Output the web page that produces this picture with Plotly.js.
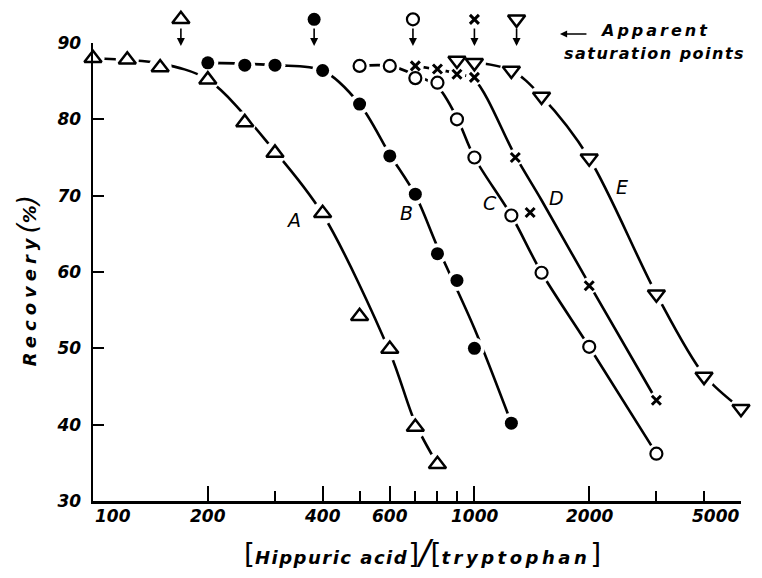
<!DOCTYPE html>
<html>
<head>
<meta charset="utf-8">
<script src="https://cdn.plot.ly/plotly-3.0.1.min.js"></script>
<style>html,body{margin:0;padding:0;background:#fff;}#chart{width:762px;height:578px;}</style>
</head>
<body>
<div id="chart"></div>
<script>
// ---- axis ticks ----
const xTickVals = [100, 200, 400, 600, 1000, 2000, 5000];
const xTickText = ['100', '200', '400', '600', '1000', '2000', '5000'];
const xMinorTicks = [300, 500, 700, 800, 900, 3000, 4000];
const yTickVals = [30, 40, 50, 60, 70, 80, 90];

// ---- series A (open triangles) ----
const aX = [100, 123, 150, 200, 250, 300, 400, 500, 600, 700, 800];
const aY = [88, 87.8, 86.8, 85.2, 79.6, 75.6, 67.7, 54.2, 49.9, 39.7, 34.8];
const aCurveX = [100, 150, 200, 300, 400, 600, 700, 800];
const aCurveY = [88, 87.3, 85.2, 75.8, 67.6, 49.5, 40.2, 34.8];

// ---- series B (filled circles) ----
const bX = [200, 250, 300, 400, 500, 600, 700, 800, 900, 1000, 1250];
const bY = [87.4, 87.1, 87.1, 86.4, 82.0, 75.2, 70.2, 62.4, 58.9, 50.0, 40.2];
const bCurveX = [200, 300, 400, 500, 600, 700, 800, 1000, 1250];
const bCurveY = [87.4, 87.1, 86.4, 82.0, 75.4, 70.1, 63.3, 52.6, 40.2];

// ---- series C (open circles) ----
const cX = [500, 600, 700, 800, 900, 1000, 1250, 1500, 2000, 3000];
const cY = [87.0, 87.0, 85.4, 84.8, 80.0, 75.0, 67.4, 59.9, 50.2, 36.2];
const cCurveX = [500, 600, 700, 800, 900, 1000, 1250, 1500, 2000, 3000];
const cCurveY = [87.0, 87.0, 85.8, 84.3, 80.2, 75.0, 67.4, 59.9, 50.2, 36.2];

// ---- series D (crosses) ----
const dX = [700, 800, 900, 1000, 1280, 1400, 2000, 3000];
const dY = [87.0, 86.6, 85.9, 85.5, 75.0, 67.8, 58.2, 43.2];
const dCurveX = [700, 900, 1000, 1280, 1500, 2000, 3000];
const dCurveY = [87.0, 86.0, 85.2, 75.2, 69.4, 58.4, 43.2];

// ---- series E (open inverted triangles) ----
const eX = [900, 1000, 1250, 1500, 2000, 3000, 4000, 5000];
const eY = [87.7, 87.4, 86.4, 83.0, 74.9, 57.1, 46.3, 42.1];
const eCurveX = [900, 1250, 1500, 2000, 3000, 4000, 5000];
const eCurveY = [87.7, 86.4, 83.0, 74.9, 57.1, 46.5, 42.1];

// ---- apparent saturation points ----
const satX = [170, 380, 690, 1000, 1290];
const satY = [93.1, 93.1, 93.1, 93.1, 93.1];
const satArrowTip = 89.6;

// ---- curve labels ----
const labelText = ['A', 'B', 'C', 'D', 'E'];
const labelX = [335, 665, 1100, 1646, 2438];
const labelY = [66.8, 67.7, 69.0, 69.7, 71.2];

const FONT = 'DejaVu Sans';
const ink = '#000';

const series = [
  {x: aX, y: aY, cx: aCurveX, cy: aCurveY, sym: 'triangle-up-open', size: 15, lw: 2.5},
  {x: bX, y: bY, cx: bCurveX, cy: bCurveY, sym: 'circle', size: 13, lw: 0},
  {x: cX, y: cY, cx: cCurveX, cy: cCurveY, sym: 'circle-open', size: 12, lw: 2.2},
  {x: dX, y: dY, cx: dCurveX, cy: dCurveY, sym: 'x-thin-open', size: 9, lw: 3},
  {x: eX, y: eY, cx: eCurveX, cy: eCurveY, sym: 'triangle-down-open', size: 15, lw: 2.5}
];

const traces = [];
series.forEach(s => {
  traces.push({x: s.cx, y: s.cy, mode: 'lines', type: 'scatter', cliponaxis: false,
    line: {color: ink, width: 2.6, shape: 'spline', smoothing: 0.9}, hoverinfo: 'skip'});
});
series.forEach(s => {
  traces.push({x: s.x, y: s.y, mode: 'markers', type: 'scatter', cliponaxis: false,
    marker: {symbol: 'circle', size: s.size + 8, color: '#fff', line: {width: 0}}, hoverinfo: 'skip'});
});
series.forEach(s => {
  traces.push({x: s.x, y: s.y, mode: 'markers', type: 'scatter', cliponaxis: false,
    marker: {symbol: s.sym, size: s.size, color: ink, line: {color: ink, width: s.lw}}});
});
// saturation markers on a strip axis above the plot area (same vertical scale)
series.forEach((s, i) => {
  traces.push({x: [satX[i]], y: [satY[i]], yaxis: 'y2', mode: 'markers', type: 'scatter', cliponaxis: false,
    marker: {symbol: s.sym, size: s.size, color: ink, line: {color: ink, width: s.lw}}});
});

const annotations = [];
// x tick labels
xTickVals.forEach((v, i) => {
  annotations.push({x: Math.log10(v), y: 0, xref: 'x', yref: 'y domain', showarrow: false,
    text: xTickText[i], yanchor: 'top', yshift: -3,
    xanchor: i === 0 ? 'left' : (i === xTickVals.length - 1 ? 'right' : 'center'),
    font: {family: FONT, size: 17, color: ink, style: 'italic', weight: 'bold'}});
});
// saturation arrows
satX.forEach(v => {
  annotations.push({x: Math.log10(v), y: satArrowTip, xref: 'x', yref: 'y', text: '',
    showarrow: true, arrowhead: 2, arrowsize: 1, arrowwidth: 1.6, arrowcolor: ink, ax: 0, ay: -19});
});
// curve labels
labelText.forEach((t, i) => {
  annotations.push({x: Math.log10(labelX[i]), y: labelY[i], xref: 'x', yref: 'y', text: t,
    showarrow: false, font: {family: FONT, size: 19, color: ink, style: 'italic'}});
});
// apparent saturation note
annotations.push({x: 0.7206, y: 1.0197, xref: 'paper', yref: 'y domain', text: '',
  showarrow: true, arrowhead: 2, arrowsize: 0.9, arrowwidth: 1.6, arrowcolor: ink, ax: 28, ay: 0});
annotations.push({x: 0.779, y: 1.027, xref: 'paper', yref: 'y domain', xanchor: 'left', yanchor: 'middle',
  showarrow: false, text: '<span style="letter-spacing:3px">Apparent</span>',
  font: {family: FONT, size: 16, color: ink, style: 'italic', weight: 'bold'}});
annotations.push({x: 0.723, y: 0.978, xref: 'paper', yref: 'y domain', xanchor: 'left', yanchor: 'middle',
  showarrow: false, text: '<span style="letter-spacing:1.5px">saturation points</span>',
  font: {family: FONT, size: 16, color: ink, style: 'italic', weight: 'bold'}});
// y title
annotations.push({x: 0, y: 0.48, xref: 'paper', yref: 'y domain', xshift: -66, textangle: -90,
  showarrow: false, xanchor: 'center', yanchor: 'middle',
  text: '<span style="letter-spacing:5px">Recovery</span><span style="font-size:26px;font-weight:normal">(</span>%<span style="font-size:26px;font-weight:normal">)</span>',
  font: {family: FONT, size: 18, color: ink, style: 'italic', weight: 'bold'}});
// x title
annotations.push({x: 0.509, y: -0.112, xref: 'paper', yref: 'y domain', xanchor: 'center', yanchor: 'middle',
  showarrow: false,
  text: '<span style="font-size:28px;font-weight:normal;font-style:normal">[</span><span style="letter-spacing:1.5px">Hippuric acid</span><span style="font-size:28px;font-weight:normal;font-style:normal">]</span><span style="font-size:34px;font-weight:normal">/</span><span style="font-size:28px;font-weight:normal;font-style:normal">[</span><span style="letter-spacing:3.5px">tryptophan</span><span style="font-size:28px;font-weight:normal;font-style:normal">]</span>',
  font: {family: FONT, size: 18, color: ink, style: 'italic', weight: 'bold'}});

// main plot: 43..501 px; strip above: 10..43 px (same 7.63 px per unit)
const TOP = 10, PLOT_TOP = 43, PLOT_BOTTOM = 501;
const paperH = PLOT_BOTTOM - TOP;
const mainTop = (PLOT_BOTTOM - PLOT_TOP) / paperH;
const pxPerUnit = (PLOT_BOTTOM - PLOT_TOP) / 60;

const layout = {
  width: 762, height: 578,
  margin: {l: 93, r: 21, t: TOP, b: 578 - PLOT_BOTTOM, pad: 0},
  paper_bgcolor: '#fff', plot_bgcolor: 'rgba(0,0,0,0)',
  showlegend: false,
  font: {family: FONT, color: ink},
  xaxis: {
    type: 'log', range: [2, Math.log10(5000)], anchor: 'y',
    showline: true, linewidth: 2.5, linecolor: ink, mirror: false,
    showgrid: false, zeroline: false,
    tickmode: 'array', tickvals: xTickVals, ticktext: xTickText, showticklabels: false,
    ticks: 'inside', ticklen: 15, tickwidth: 2, tickcolor: ink,
    minor: {tickmode: 'array', tickvals: xMinorTicks, ticks: 'inside', ticklen: 10, tickwidth: 2, tickcolor: ink, showgrid: false}
  },
  yaxis: {
    domain: [0, mainTop],
    range: [30, 90],
    showline: true, linewidth: 2.5, linecolor: ink, mirror: false,
    showgrid: false, zeroline: false,
    tickmode: 'array', tickvals: yTickVals,
    ticks: 'inside', ticklen: 11, tickwidth: 2, tickcolor: ink,
    ticklabelstandoff: 6,
    tickfont: {family: FONT, size: 17, color: ink, style: 'italic', weight: 'bold'}
  },
  yaxis2: {
    domain: [mainTop, 1],
    range: [90, 90 + (PLOT_TOP - TOP) / pxPerUnit],
    anchor: 'x', visible: false, showgrid: false, zeroline: false
  },
  annotations: annotations
};

Plotly.newPlot('chart', traces, layout, {displayModeBar: false, staticPlot: true});
</script>
</body>
</html>
